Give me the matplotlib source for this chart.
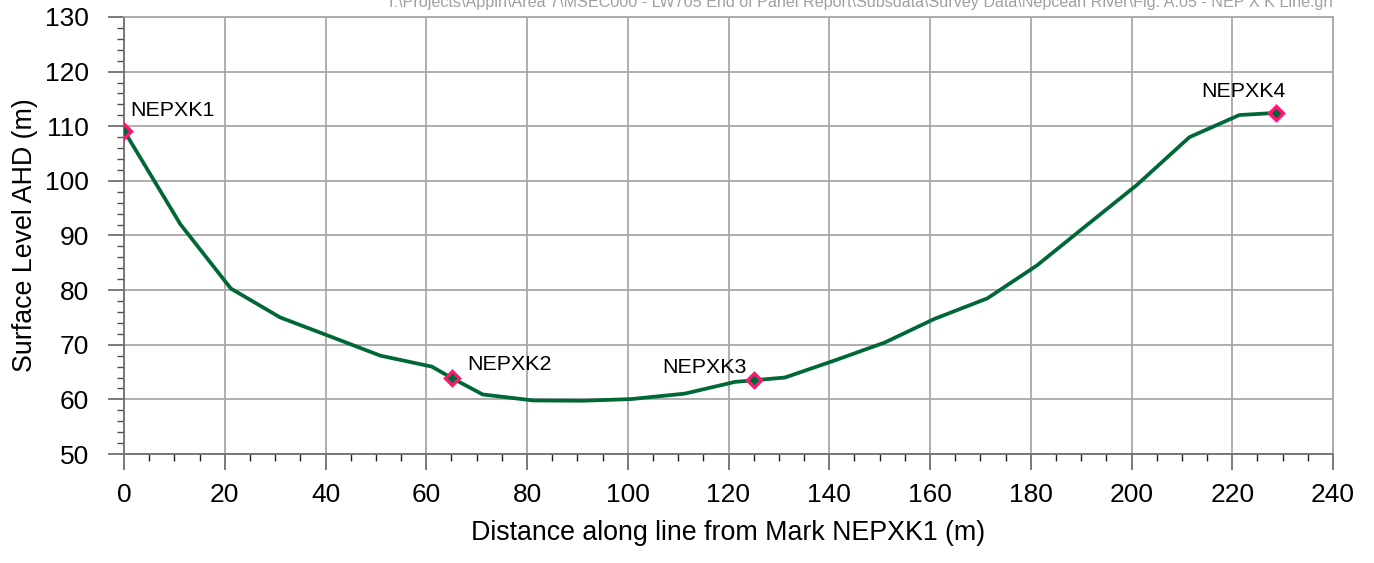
import matplotlib
matplotlib.use("Agg")
import matplotlib.pyplot as plt
from matplotlib.ticker import MultipleLocator

plt.rcParams['font.family'] = ['Liberation Sans', 'DejaVu Sans']

# Surveyed profile along the Nepean River cross line
distance = [0, 11.2, 21.2, 31.0, 41.0, 50.9, 61.1, 65.2, 71.2, 81.3, 91.0, 100.6,
            111.3, 121.3, 125.1, 131.2, 141.0, 151.0, 160.8, 171.4, 181.2, 191.0,
            201.0, 211.5, 221.4, 228.7]
level = [109.2, 92.05, 80.3, 75.0, 71.5, 68.0, 66.0, 63.85, 60.9, 59.8, 59.75, 60.05,
         61.05, 63.2, 63.5, 64.0, 67.1, 70.4, 74.7, 78.5, 84.5, 91.8,
         99.2, 108.0, 112.05, 112.45]

# Survey marks
mark_names = ["NEPXK1", "NEPXK2", "NEPXK3", "NEPXK4"]
mark_distance = [0, 65.2, 125.1, 228.7]
mark_level = [109.2, 63.85, 63.5, 112.45]

x_ticks = list(range(0, 241, 20))
y_ticks = list(range(50, 131, 10))

fig = plt.figure(figsize=(13.74, 5.63), dpi=100)
ax = fig.add_axes([124 / 1374, 1 - 454 / 563, (1333 - 124) / 1374, (454 - 17) / 563])

ax.plot(distance, level, color="#006837", lw=2.7, zorder=3)
ax.plot(mark_distance, mark_level, ls="none", marker="D", ms=7.5,
        mfc="#006837", mec="#ff1670", mew=2.4, zorder=4)

offsets = [(6, 15, "left"), (15, 8, "left"), (-8, 7, "right"), (-33, 16, "center")]
for name, xd, yd, (dx, dy, ha) in zip(mark_names, mark_distance, mark_level, offsets):
    ax.annotate(name, (xd, yd), xytext=(dx, dy), textcoords="offset pixels",
                ha=ha, va="baseline", fontsize=15.4, color="black", zorder=5)

ax.set_xlim(0, 240)
ax.set_ylim(50, 130)
ax.set_xticks(x_ticks)
ax.set_yticks(y_ticks)
ax.xaxis.set_minor_locator(MultipleLocator(5))
ax.yaxis.set_minor_locator(MultipleLocator(2))

ax.grid(True, which="major", color="#a8a8a8", lw=1.3, zorder=0)
for side in ["top", "right"]:
    ax.spines[side].set_color("#a8a8a8")
    ax.spines[side].set_linewidth(1.3)
for side in ["left", "bottom"]:
    ax.spines[side].set_color("#707070")
    ax.spines[side].set_linewidth(1.3)

ax.tick_params(which="major", direction="out", length=11.5, width=1.3,
               color="#707070", labelsize=19, pad=13.5)
ax.tick_params(axis="x", which="major", pad=9.5)
ax.tick_params(which="minor", direction="out", length=5, width=1.0, color="#505050")
ax.tick_params(axis="x", which="minor", color="#202020")

ax.set_xlabel("Distance along line from Mark NEPXK1 (m)", fontsize=19.3, labelpad=9)
ax.set_ylabel("Surface Level AHD (m)", fontsize=19.3, labelpad=5.5)

fig.text(1333 / 1374, 1 - 7 / 563,
         r"I:\Projects\Appin\Area 7\MSEC000 - LW705 End of Panel Report\Subsdata\Survey Data\Nepcean River\Fig. A.05 - NEP X K Line.grf",
         ha="right", va="baseline", fontsize=11.6, color="#a0a0a0")

fig.savefig("out.png", dpi=100)
